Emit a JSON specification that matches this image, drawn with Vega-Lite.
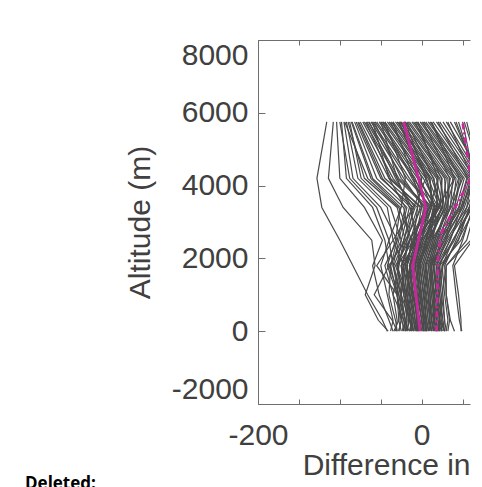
{
"$schema":"https://vega.github.io/schema/vega-lite/v6.json",
"autosize":{"type":"none"},
"padding":{"left":258,"top":40,"right":12,"bottom":83},
"width":212,"height":364,
"background":"white",
"config":{"view":{"stroke":null}},
"title":{"text":"Deleted:","orient":"bottom","anchor":"start","frame":"group","font":"Open Sans","fontWeight":"bold","fontSize":17,"color":"black","dx":-233,"offset":0,"dy":-4},
"datasets":{
"profiles":[
{"id":1,"alt":5750,"diff":-116},{"id":1,"alt":4200,"diff":-128},{"id":1,"alt":3400,"diff":-122},{"id":1,"alt":2500,"diff":-100},{"id":1,"alt":1800,"diff":-84},{"id":1,"alt":1000,"diff":-66},{"id":1,"alt":300,"diff":-48},{"id":1,"alt":0,"diff":-42},
{"id":2,"alt":5750,"diff":-108},{"id":2,"alt":4200,"diff":-114},{"id":2,"alt":3400,"diff":-96},{"id":2,"alt":2500,"diff":-61},{"id":2,"alt":1800,"diff":-57},{"id":2,"alt":1000,"diff":-69},{"id":2,"alt":300,"diff":-53},{"id":2,"alt":0,"diff":-41},
{"id":3,"alt":5750,"diff":-104},{"id":3,"alt":4200,"diff":-100},{"id":3,"alt":3400,"diff":-70},{"id":3,"alt":2500,"diff":-48},{"id":3,"alt":1800,"diff":-60},{"id":3,"alt":1000,"diff":-52},{"id":3,"alt":300,"diff":-40},{"id":3,"alt":0,"diff":-35},
{"id":4,"alt":5750,"diff":-98},{"id":4,"alt":4200,"diff":-92},{"id":4,"alt":3400,"diff":-60},{"id":4,"alt":2500,"diff":-45},{"id":4,"alt":1800,"diff":-40},{"id":4,"alt":1000,"diff":-58},{"id":4,"alt":300,"diff":-36},{"id":4,"alt":0,"diff":-30},
{"id":5,"alt":5750,"diff":-95},{"id":5,"alt":4200,"diff":-84},{"id":5,"alt":3400,"diff":-50},{"id":5,"alt":2500,"diff":-30},{"id":5,"alt":1800,"diff":-38},{"id":5,"alt":1000,"diff":-30},{"id":5,"alt":300,"diff":-28},{"id":5,"alt":0,"diff":-25},
{"id":6,"alt":5750,"diff":-92},{"id":6,"alt":4200,"diff":-78},{"id":6,"alt":3400,"diff":-42},{"id":6,"alt":2500,"diff":-35},{"id":6,"alt":1800,"diff":-22},{"id":6,"alt":1000,"diff":-25},{"id":6,"alt":300,"diff":-20},{"id":6,"alt":0,"diff":-18},
{"id":7,"alt":5750,"diff":-90},{"id":7,"alt":4200,"diff":-70},{"id":7,"alt":3400,"diff":-30},{"id":7,"alt":2500,"diff":-20},{"id":7,"alt":1800,"diff":-28},{"id":7,"alt":1000,"diff":-35},{"id":7,"alt":300,"diff":-22},{"id":7,"alt":0,"diff":-15},
{"id":8,"alt":5750,"diff":-88},{"id":8,"alt":4200,"diff":-74},{"id":8,"alt":3400,"diff":-38},{"id":8,"alt":2500,"diff":-25},{"id":8,"alt":1800,"diff":-30},{"id":8,"alt":1000,"diff":-18},{"id":8,"alt":300,"diff":-12},{"id":8,"alt":0,"diff":-10},
{"id":9,"alt":5750,"diff":-85},{"id":9,"alt":4200,"diff":-60},{"id":9,"alt":3400,"diff":-22},{"id":9,"alt":2500,"diff":-15},{"id":9,"alt":1800,"diff":-25},{"id":9,"alt":1000,"diff":-20},{"id":9,"alt":300,"diff":-18},{"id":9,"alt":0,"diff":-20},
{"id":10,"alt":5750,"diff":-82},{"id":10,"alt":4200,"diff":-55},{"id":10,"alt":3400,"diff":-18},{"id":10,"alt":2500,"diff":-28},{"id":10,"alt":1800,"diff":-35},{"id":10,"alt":1000,"diff":-25},{"id":10,"alt":300,"diff":-15},{"id":10,"alt":0,"diff":-12},
{"id":11,"alt":5750,"diff":-80},{"id":11,"alt":4200,"diff":-50},{"id":11,"alt":3400,"diff":-10},{"id":11,"alt":2500,"diff":-18},{"id":11,"alt":1800,"diff":-20},{"id":11,"alt":1000,"diff":-12},{"id":11,"alt":300,"diff":-8},{"id":11,"alt":0,"diff":-5},
{"id":12,"alt":5750,"diff":-77},{"id":12,"alt":4200,"diff":-45},{"id":12,"alt":3400,"diff":-5},{"id":12,"alt":2500,"diff":-10},{"id":12,"alt":1800,"diff":-30},{"id":12,"alt":1000,"diff":-22},{"id":12,"alt":300,"diff":-10},{"id":12,"alt":0,"diff":-8},
{"id":13,"alt":5750,"diff":-75},{"id":13,"alt":4200,"diff":-40},{"id":13,"alt":3400,"diff":0},{"id":13,"alt":2500,"diff":-8},{"id":13,"alt":1800,"diff":-15},{"id":13,"alt":1000,"diff":-10},{"id":13,"alt":300,"diff":-5},{"id":13,"alt":0,"diff":-3},
{"id":14,"alt":5750,"diff":-72},{"id":14,"alt":4200,"diff":-35},{"id":14,"alt":3400,"diff":-8},{"id":14,"alt":2500,"diff":-22},{"id":14,"alt":1800,"diff":-28},{"id":14,"alt":1000,"diff":-30},{"id":14,"alt":300,"diff":-25},{"id":14,"alt":0,"diff":-28},
{"id":15,"alt":5750,"diff":-70},{"id":15,"alt":4200,"diff":-30},{"id":15,"alt":3400,"diff":5},{"id":15,"alt":2500,"diff":-5},{"id":15,"alt":1800,"diff":-12},{"id":15,"alt":1000,"diff":-8},{"id":15,"alt":300,"diff":-2},{"id":15,"alt":0,"diff":0},
{"id":16,"alt":5750,"diff":-67},{"id":16,"alt":4200,"diff":-28},{"id":16,"alt":3400,"diff":8},{"id":16,"alt":2500,"diff":-12},{"id":16,"alt":1800,"diff":-18},{"id":16,"alt":1000,"diff":-15},{"id":16,"alt":300,"diff":-10},{"id":16,"alt":0,"diff":-6},
{"id":17,"alt":5750,"diff":-65},{"id":17,"alt":4200,"diff":-22},{"id":17,"alt":3400,"diff":2},{"id":17,"alt":2500,"diff":-2},{"id":17,"alt":1800,"diff":-8},{"id":17,"alt":1000,"diff":-4},{"id":17,"alt":300,"diff":0},{"id":17,"alt":0,"diff":2},
{"id":18,"alt":5750,"diff":-62},{"id":18,"alt":4200,"diff":-18},{"id":18,"alt":3400,"diff":12},{"id":18,"alt":2500,"diff":0},{"id":18,"alt":1800,"diff":-10},{"id":18,"alt":1000,"diff":-6},{"id":18,"alt":300,"diff":-4},{"id":18,"alt":0,"diff":-2},
{"id":19,"alt":5750,"diff":-60},{"id":19,"alt":4200,"diff":-15},{"id":19,"alt":3400,"diff":10},{"id":19,"alt":2500,"diff":-8},{"id":19,"alt":1800,"diff":-22},{"id":19,"alt":1000,"diff":-18},{"id":19,"alt":300,"diff":-12},{"id":19,"alt":0,"diff":-15},
{"id":20,"alt":5750,"diff":-57},{"id":20,"alt":4200,"diff":-10},{"id":20,"alt":3400,"diff":15},{"id":20,"alt":2500,"diff":5},{"id":20,"alt":1800,"diff":-5},{"id":20,"alt":1000,"diff":0},{"id":20,"alt":300,"diff":3},{"id":20,"alt":0,"diff":5},
{"id":21,"alt":5750,"diff":-55},{"id":21,"alt":4200,"diff":-8},{"id":21,"alt":3400,"diff":6},{"id":21,"alt":2500,"diff":-15},{"id":21,"alt":1800,"diff":-25},{"id":21,"alt":1000,"diff":-10},{"id":21,"alt":300,"diff":-6},{"id":21,"alt":0,"diff":-8},
{"id":22,"alt":5750,"diff":-52},{"id":22,"alt":4200,"diff":-5},{"id":22,"alt":3400,"diff":18},{"id":22,"alt":2500,"diff":8},{"id":22,"alt":1800,"diff":-2},{"id":22,"alt":1000,"diff":2},{"id":22,"alt":300,"diff":5},{"id":22,"alt":0,"diff":6},
{"id":23,"alt":5750,"diff":-50},{"id":23,"alt":4200,"diff":-2},{"id":23,"alt":3400,"diff":12},{"id":23,"alt":2500,"diff":-4},{"id":23,"alt":1800,"diff":-15},{"id":23,"alt":1000,"diff":-12},{"id":23,"alt":300,"diff":-2},{"id":23,"alt":0,"diff":-4},
{"id":24,"alt":5750,"diff":-47},{"id":24,"alt":4200,"diff":2},{"id":24,"alt":3400,"diff":20},{"id":24,"alt":2500,"diff":2},{"id":24,"alt":1800,"diff":-6},{"id":24,"alt":1000,"diff":-3},{"id":24,"alt":300,"diff":2},{"id":24,"alt":0,"diff":3},
{"id":25,"alt":5750,"diff":-45},{"id":25,"alt":4200,"diff":5},{"id":25,"alt":3400,"diff":16},{"id":25,"alt":2500,"diff":10},{"id":25,"alt":1800,"diff":0},{"id":25,"alt":1000,"diff":5},{"id":25,"alt":300,"diff":8},{"id":25,"alt":0,"diff":10},
{"id":26,"alt":5750,"diff":-42},{"id":26,"alt":4200,"diff":8},{"id":26,"alt":3400,"diff":22},{"id":26,"alt":2500,"diff":-2},{"id":26,"alt":1800,"diff":-12},{"id":26,"alt":1000,"diff":-8},{"id":26,"alt":300,"diff":-4},{"id":26,"alt":0,"diff":-6},
{"id":27,"alt":5750,"diff":-40},{"id":27,"alt":4200,"diff":10},{"id":27,"alt":3400,"diff":14},{"id":27,"alt":2500,"diff":6},{"id":27,"alt":1800,"diff":-4},{"id":27,"alt":1000,"diff":-1},{"id":27,"alt":300,"diff":4},{"id":27,"alt":0,"diff":4},
{"id":28,"alt":5750,"diff":-37},{"id":28,"alt":4200,"diff":12},{"id":28,"alt":3400,"diff":24},{"id":28,"alt":2500,"diff":12},{"id":28,"alt":1800,"diff":2},{"id":28,"alt":1000,"diff":8},{"id":28,"alt":300,"diff":10},{"id":28,"alt":0,"diff":12},
{"id":29,"alt":5750,"diff":-35},{"id":29,"alt":4200,"diff":15},{"id":29,"alt":3400,"diff":20},{"id":29,"alt":2500,"diff":-6},{"id":29,"alt":1800,"diff":-18},{"id":29,"alt":1000,"diff":-14},{"id":29,"alt":300,"diff":-8},{"id":29,"alt":0,"diff":-10},
{"id":30,"alt":5750,"diff":-32},{"id":30,"alt":4200,"diff":18},{"id":30,"alt":3400,"diff":26},{"id":30,"alt":2500,"diff":4},{"id":30,"alt":1800,"diff":-8},{"id":30,"alt":1000,"diff":-2},{"id":30,"alt":300,"diff":2},{"id":30,"alt":0,"diff":0},
{"id":31,"alt":5750,"diff":-30},{"id":31,"alt":4200,"diff":20},{"id":31,"alt":3400,"diff":18},{"id":31,"alt":2500,"diff":14},{"id":31,"alt":1800,"diff":5},{"id":31,"alt":1000,"diff":10},{"id":31,"alt":300,"diff":12},{"id":31,"alt":0,"diff":15},
{"id":32,"alt":5750,"diff":-27},{"id":32,"alt":4200,"diff":22},{"id":32,"alt":3400,"diff":28},{"id":32,"alt":2500,"diff":8},{"id":32,"alt":1800,"diff":-3},{"id":32,"alt":1000,"diff":3},{"id":32,"alt":300,"diff":6},{"id":32,"alt":0,"diff":8},
{"id":33,"alt":5750,"diff":-25},{"id":33,"alt":4200,"diff":25},{"id":33,"alt":3400,"diff":22},{"id":33,"alt":2500,"diff":-10},{"id":33,"alt":1800,"diff":-20},{"id":33,"alt":1000,"diff":-16},{"id":33,"alt":300,"diff":-12},{"id":33,"alt":0,"diff":-14},
{"id":34,"alt":5750,"diff":-22},{"id":34,"alt":4200,"diff":28},{"id":34,"alt":3400,"diff":30},{"id":34,"alt":2500,"diff":16},{"id":34,"alt":1800,"diff":8},{"id":34,"alt":1000,"diff":12},{"id":34,"alt":300,"diff":15},{"id":34,"alt":0,"diff":18},
{"id":35,"alt":5750,"diff":-20},{"id":35,"alt":4200,"diff":30},{"id":35,"alt":3400,"diff":25},{"id":35,"alt":2500,"diff":2},{"id":35,"alt":1800,"diff":-10},{"id":35,"alt":1000,"diff":-5},{"id":35,"alt":300,"diff":0},{"id":35,"alt":0,"diff":-2},
{"id":36,"alt":5750,"diff":-17},{"id":36,"alt":4200,"diff":32},{"id":36,"alt":3400,"diff":32},{"id":36,"alt":2500,"diff":18},{"id":36,"alt":1800,"diff":10},{"id":36,"alt":1000,"diff":14},{"id":36,"alt":300,"diff":18},{"id":36,"alt":0,"diff":20},
{"id":37,"alt":5750,"diff":-15},{"id":37,"alt":4200,"diff":35},{"id":37,"alt":3400,"diff":28},{"id":37,"alt":2500,"diff":10},{"id":37,"alt":1800,"diff":0},{"id":37,"alt":1000,"diff":4},{"id":37,"alt":300,"diff":8},{"id":37,"alt":0,"diff":6},
{"id":38,"alt":5750,"diff":-12},{"id":38,"alt":4200,"diff":38},{"id":38,"alt":3400,"diff":35},{"id":38,"alt":2500,"diff":20},{"id":38,"alt":1800,"diff":12},{"id":38,"alt":1000,"diff":16},{"id":38,"alt":300,"diff":20},{"id":38,"alt":0,"diff":24},
{"id":39,"alt":5750,"diff":-10},{"id":39,"alt":4200,"diff":40},{"id":39,"alt":3400,"diff":30},{"id":39,"alt":2500,"diff":6},{"id":39,"alt":1800,"diff":-6},{"id":39,"alt":1000,"diff":-2},{"id":39,"alt":300,"diff":2},{"id":39,"alt":0,"diff":2},
{"id":40,"alt":5750,"diff":-7},{"id":40,"alt":4200,"diff":42},{"id":40,"alt":3400,"diff":38},{"id":40,"alt":2500,"diff":24},{"id":40,"alt":1800,"diff":15},{"id":40,"alt":1000,"diff":18},{"id":40,"alt":300,"diff":22},{"id":40,"alt":0,"diff":28},
{"id":41,"alt":5750,"diff":-5},{"id":41,"alt":4200,"diff":45},{"id":41,"alt":3400,"diff":34},{"id":41,"alt":2500,"diff":14},{"id":41,"alt":1800,"diff":4},{"id":41,"alt":1000,"diff":8},{"id":41,"alt":300,"diff":12},{"id":41,"alt":0,"diff":10},
{"id":42,"alt":5750,"diff":-2},{"id":42,"alt":4200,"diff":48},{"id":42,"alt":3400,"diff":40},{"id":42,"alt":2500,"diff":28},{"id":42,"alt":1800,"diff":12},{"id":42,"alt":1000,"diff":15},{"id":42,"alt":300,"diff":18},{"id":42,"alt":0,"diff":20},
{"id":43,"alt":5750,"diff":0},{"id":43,"alt":4200,"diff":50},{"id":43,"alt":3400,"diff":36},{"id":43,"alt":2500,"diff":12},{"id":43,"alt":1800,"diff":2},{"id":43,"alt":1000,"diff":6},{"id":43,"alt":300,"diff":10},{"id":43,"alt":0,"diff":8},
{"id":44,"alt":5750,"diff":3},{"id":44,"alt":4200,"diff":52},{"id":44,"alt":3400,"diff":42},{"id":44,"alt":2500,"diff":30},{"id":44,"alt":1800,"diff":14},{"id":44,"alt":1000,"diff":18},{"id":44,"alt":300,"diff":22},{"id":44,"alt":0,"diff":25},
{"id":45,"alt":5750,"diff":5},{"id":45,"alt":4200,"diff":55},{"id":45,"alt":3400,"diff":45},{"id":45,"alt":2500,"diff":20},{"id":45,"alt":1800,"diff":8},{"id":45,"alt":1000,"diff":12},{"id":45,"alt":300,"diff":16},{"id":45,"alt":0,"diff":14},
{"id":46,"alt":5750,"diff":8},{"id":46,"alt":4200,"diff":58},{"id":46,"alt":3400,"diff":48},{"id":46,"alt":2500,"diff":35},{"id":46,"alt":1800,"diff":18},{"id":46,"alt":1000,"diff":20},{"id":46,"alt":300,"diff":24},{"id":46,"alt":0,"diff":28},
{"id":47,"alt":5750,"diff":10},{"id":47,"alt":4200,"diff":60},{"id":47,"alt":3400,"diff":50},{"id":47,"alt":2500,"diff":26},{"id":47,"alt":1800,"diff":14},{"id":47,"alt":1000,"diff":18},{"id":47,"alt":300,"diff":22},{"id":47,"alt":0,"diff":20},
{"id":48,"alt":5750,"diff":14},{"id":48,"alt":4200,"diff":62},{"id":48,"alt":3400,"diff":55},{"id":48,"alt":2500,"diff":40},{"id":48,"alt":1800,"diff":20},{"id":48,"alt":1000,"diff":24},{"id":48,"alt":300,"diff":28},{"id":48,"alt":0,"diff":30},
{"id":49,"alt":5750,"diff":18},{"id":49,"alt":4200,"diff":65},{"id":49,"alt":3400,"diff":48},{"id":49,"alt":2500,"diff":22},{"id":49,"alt":1800,"diff":10},{"id":49,"alt":1000,"diff":14},{"id":49,"alt":300,"diff":18},{"id":49,"alt":0,"diff":16},
{"id":50,"alt":5750,"diff":22},{"id":50,"alt":4200,"diff":68},{"id":50,"alt":3400,"diff":62},{"id":50,"alt":2500,"diff":50},{"id":50,"alt":1800,"diff":38},{"id":50,"alt":1000,"diff":42},{"id":50,"alt":300,"diff":46},{"id":50,"alt":0,"diff":49},
{"id":51,"alt":5750,"diff":26},{"id":51,"alt":4200,"diff":70},{"id":51,"alt":3400,"diff":58},{"id":51,"alt":2500,"diff":45},{"id":51,"alt":1800,"diff":25},{"id":51,"alt":1000,"diff":20},{"id":51,"alt":300,"diff":22},{"id":51,"alt":0,"diff":22},
{"id":52,"alt":5750,"diff":30},{"id":52,"alt":4200,"diff":72},{"id":52,"alt":3400,"diff":66},{"id":52,"alt":2500,"diff":55},{"id":52,"alt":1800,"diff":30},{"id":52,"alt":1000,"diff":25},{"id":52,"alt":300,"diff":22},{"id":52,"alt":0,"diff":20},
{"id":53,"alt":5750,"diff":35},{"id":53,"alt":4200,"diff":75},{"id":53,"alt":3400,"diff":60},{"id":53,"alt":2500,"diff":38},{"id":53,"alt":1800,"diff":25},{"id":53,"alt":1000,"diff":28},{"id":53,"alt":300,"diff":32},{"id":53,"alt":0,"diff":30},
{"id":54,"alt":5750,"diff":40},{"id":54,"alt":4200,"diff":70},{"id":54,"alt":3400,"diff":55},{"id":54,"alt":2500,"diff":30},{"id":54,"alt":1800,"diff":18},{"id":54,"alt":1000,"diff":22},{"id":54,"alt":300,"diff":25},{"id":54,"alt":0,"diff":24},
{"id":55,"alt":5750,"diff":45},{"id":55,"alt":4200,"diff":66},{"id":55,"alt":3400,"diff":64},{"id":55,"alt":2500,"diff":48},{"id":55,"alt":1800,"diff":22},{"id":55,"alt":1000,"diff":20},{"id":55,"alt":300,"diff":18},{"id":55,"alt":0,"diff":18},
{"id":56,"alt":5750,"diff":50},{"id":56,"alt":4200,"diff":64},{"id":56,"alt":3400,"diff":52},{"id":56,"alt":2500,"diff":34},{"id":56,"alt":1800,"diff":22},{"id":56,"alt":1000,"diff":26},{"id":56,"alt":300,"diff":28},{"id":56,"alt":0,"diff":26},
{"id":57,"alt":5750,"diff":55},{"id":57,"alt":4200,"diff":72},{"id":57,"alt":3400,"diff":75},{"id":57,"alt":2500,"diff":62},{"id":57,"alt":1800,"diff":40},{"id":57,"alt":1000,"diff":45},{"id":57,"alt":300,"diff":48},{"id":57,"alt":0,"diff":48},
{"id":58,"alt":5750,"diff":60},{"id":58,"alt":4200,"diff":70},{"id":58,"alt":3400,"diff":60},{"id":58,"alt":2500,"diff":42},{"id":58,"alt":1800,"diff":28},{"id":58,"alt":1000,"diff":30},{"id":58,"alt":300,"diff":34},{"id":58,"alt":0,"diff":32},
{"id":59,"alt":5750,"diff":65},{"id":59,"alt":4200,"diff":75},{"id":59,"alt":3400,"diff":72},{"id":59,"alt":2500,"diff":60},{"id":59,"alt":1800,"diff":30},{"id":59,"alt":1000,"diff":30},{"id":59,"alt":300,"diff":35},{"id":59,"alt":0,"diff":40},
{"id":60,"alt":5750,"diff":-60},{"id":60,"alt":4200,"diff":-40},{"id":60,"alt":3400,"diff":-20},{"id":60,"alt":2500,"diff":-30},{"id":60,"alt":1800,"diff":-45},{"id":60,"alt":1000,"diff":-35},{"id":60,"alt":300,"diff":-30},{"id":60,"alt":0,"diff":-32},
{"id":61,"alt":5750,"diff":-45},{"id":61,"alt":4200,"diff":-20},{"id":61,"alt":3400,"diff":-25},{"id":61,"alt":2500,"diff":-40},{"id":61,"alt":1800,"diff":-50},{"id":61,"alt":1000,"diff":-42},{"id":61,"alt":300,"diff":-35},{"id":61,"alt":0,"diff":-38},
{"id":62,"alt":5750,"diff":-20},{"id":62,"alt":4200,"diff":5},{"id":62,"alt":3400,"diff":-10},{"id":62,"alt":2500,"diff":-35},{"id":62,"alt":1800,"diff":-55},{"id":62,"alt":1000,"diff":-30},{"id":62,"alt":300,"diff":-25},{"id":62,"alt":0,"diff":-28},
{"id":63,"alt":5750,"diff":-35},{"id":63,"alt":4200,"diff":-10},{"id":63,"alt":3400,"diff":0},{"id":63,"alt":2500,"diff":-20},{"id":63,"alt":1800,"diff":-40},{"id":63,"alt":1000,"diff":-28},{"id":63,"alt":300,"diff":-20},{"id":63,"alt":0,"diff":-22},
{"id":64,"alt":5750,"diff":-5},{"id":64,"alt":4200,"diff":20},{"id":64,"alt":3400,"diff":10},{"id":64,"alt":2500,"diff":-15},{"id":64,"alt":1800,"diff":-32},{"id":64,"alt":1000,"diff":-20},{"id":64,"alt":300,"diff":-15},{"id":64,"alt":0,"diff":-18},
{"id":65,"alt":5750,"diff":-50},{"id":65,"alt":4200,"diff":-30},{"id":65,"alt":3400,"diff":-15},{"id":65,"alt":2500,"diff":-25},{"id":65,"alt":1800,"diff":-38},{"id":65,"alt":1000,"diff":-40},{"id":65,"alt":300,"diff":-32},{"id":65,"alt":0,"diff":-30},
{"id":66,"alt":5750,"diff":-28},{"id":66,"alt":4200,"diff":0},{"id":66,"alt":3400,"diff":-5},{"id":66,"alt":2500,"diff":-18},{"id":66,"alt":1800,"diff":-30},{"id":66,"alt":1000,"diff":-25},{"id":66,"alt":300,"diff":-28},{"id":66,"alt":0,"diff":-34},
{"id":67,"alt":5750,"diff":12},{"id":67,"alt":4200,"diff":40},{"id":67,"alt":3400,"diff":20},{"id":67,"alt":2500,"diff":-5},{"id":67,"alt":1800,"diff":-25},{"id":67,"alt":1000,"diff":-22},{"id":67,"alt":300,"diff":-18},{"id":67,"alt":0,"diff":-20},
{"id":68,"alt":5750,"diff":-100},{"id":68,"alt":4200,"diff":-88},{"id":68,"alt":3400,"diff":-55},{"id":68,"alt":2500,"diff":-40},{"id":68,"alt":1800,"diff":-35},{"id":68,"alt":1000,"diff":-28},{"id":68,"alt":300,"diff":-22},{"id":68,"alt":0,"diff":-20},
{"id":69,"alt":5750,"diff":-94},{"id":69,"alt":4200,"diff":-66},{"id":69,"alt":3400,"diff":-28},{"id":69,"alt":2500,"diff":-12},{"id":69,"alt":1800,"diff":-18},{"id":69,"alt":1000,"diff":-14},{"id":69,"alt":300,"diff":-10},{"id":69,"alt":0,"diff":-12},
{"id":70,"alt":5750,"diff":-86},{"id":70,"alt":4200,"diff":-62},{"id":70,"alt":3400,"diff":-26},{"id":70,"alt":2500,"diff":-32},{"id":70,"alt":1800,"diff":-42},{"id":70,"alt":1000,"diff":-30},{"id":70,"alt":300,"diff":-24},{"id":70,"alt":0,"diff":-22},
{"id":71,"alt":5750,"diff":-78},{"id":71,"alt":4200,"diff":-48},{"id":71,"alt":3400,"diff":-14},{"id":71,"alt":2500,"diff":-6},{"id":71,"alt":1800,"diff":-14},{"id":71,"alt":1000,"diff":-18},{"id":71,"alt":300,"diff":-14},{"id":71,"alt":0,"diff":-10},
{"id":72,"alt":5750,"diff":-68},{"id":72,"alt":4200,"diff":-38},{"id":72,"alt":3400,"diff":-2},{"id":72,"alt":2500,"diff":-14},{"id":72,"alt":1800,"diff":-24},{"id":72,"alt":1000,"diff":-20},{"id":72,"alt":300,"diff":-16},{"id":72,"alt":0,"diff":-18},
{"id":73,"alt":5750,"diff":-58},{"id":73,"alt":4200,"diff":-25},{"id":73,"alt":3400,"diff":4},{"id":73,"alt":2500,"diff":-10},{"id":73,"alt":1800,"diff":-18},{"id":73,"alt":1000,"diff":-10},{"id":73,"alt":300,"diff":-4},{"id":73,"alt":0,"diff":-6},
{"id":74,"alt":5750,"diff":-48},{"id":74,"alt":4200,"diff":-12},{"id":74,"alt":3400,"diff":8},{"id":74,"alt":2500,"diff":0},{"id":74,"alt":1800,"diff":-8},{"id":74,"alt":1000,"diff":-12},{"id":74,"alt":300,"diff":-8},{"id":74,"alt":0,"diff":-6},
{"id":75,"alt":5750,"diff":-38},{"id":75,"alt":4200,"diff":-4},{"id":75,"alt":3400,"diff":18},{"id":75,"alt":2500,"diff":-4},{"id":75,"alt":1800,"diff":-14},{"id":75,"alt":1000,"diff":-6},{"id":75,"alt":300,"diff":0},{"id":75,"alt":0,"diff":2},
{"id":76,"alt":5750,"diff":-28},{"id":76,"alt":4200,"diff":6},{"id":76,"alt":3400,"diff":16},{"id":76,"alt":2500,"diff":6},{"id":76,"alt":1800,"diff":-2},{"id":76,"alt":1000,"diff":2},{"id":76,"alt":300,"diff":6},{"id":76,"alt":0,"diff":4},
{"id":77,"alt":5750,"diff":-18},{"id":77,"alt":4200,"diff":14},{"id":77,"alt":3400,"diff":24},{"id":77,"alt":2500,"diff":10},{"id":77,"alt":1800,"diff":-4},{"id":77,"alt":1000,"diff":0},{"id":77,"alt":300,"diff":4},{"id":77,"alt":0,"diff":6},
{"id":78,"alt":5750,"diff":-8},{"id":78,"alt":4200,"diff":24},{"id":78,"alt":3400,"diff":26},{"id":78,"alt":2500,"diff":0},{"id":78,"alt":1800,"diff":-14},{"id":78,"alt":1000,"diff":-10},{"id":78,"alt":300,"diff":-6},{"id":78,"alt":0,"diff":-4},
{"id":79,"alt":5750,"diff":2},{"id":79,"alt":4200,"diff":34},{"id":79,"alt":3400,"diff":32},{"id":79,"alt":2500,"diff":16},{"id":79,"alt":1800,"diff":4},{"id":79,"alt":1000,"diff":8},{"id":79,"alt":300,"diff":10},{"id":79,"alt":0,"diff":12},
{"id":80,"alt":5750,"diff":12},{"id":80,"alt":4200,"diff":46},{"id":80,"alt":3400,"diff":40},{"id":80,"alt":2500,"diff":18},{"id":80,"alt":1800,"diff":6},{"id":80,"alt":1000,"diff":10},{"id":80,"alt":300,"diff":14},{"id":80,"alt":0,"diff":12},
{"id":81,"alt":5750,"diff":20},{"id":81,"alt":4200,"diff":56},{"id":81,"alt":3400,"diff":46},{"id":81,"alt":2500,"diff":24},{"id":81,"alt":1800,"diff":12},{"id":81,"alt":1000,"diff":10},{"id":81,"alt":300,"diff":12},{"id":81,"alt":0,"diff":14},
{"id":82,"alt":5750,"diff":32},{"id":82,"alt":4200,"diff":62},{"id":82,"alt":3400,"diff":50},{"id":82,"alt":2500,"diff":28},{"id":82,"alt":1800,"diff":10},{"id":82,"alt":1000,"diff":14},{"id":82,"alt":300,"diff":16},{"id":82,"alt":0,"diff":18},
{"id":83,"alt":5750,"diff":42},{"id":83,"alt":4200,"diff":68},{"id":83,"alt":3400,"diff":58},{"id":83,"alt":2500,"diff":32},{"id":83,"alt":1800,"diff":16},{"id":83,"alt":1000,"diff":18},{"id":83,"alt":300,"diff":20},{"id":83,"alt":0,"diff":22},
{"id":84,"alt":5750,"diff":52},{"id":84,"alt":4200,"diff":74},{"id":84,"alt":3400,"diff":62},{"id":84,"alt":2500,"diff":38},{"id":84,"alt":1800,"diff":20},{"id":84,"alt":1000,"diff":16},{"id":84,"alt":300,"diff":14},{"id":84,"alt":0,"diff":16},
{"id":85,"alt":5750,"diff":62},{"id":85,"alt":4200,"diff":78},{"id":85,"alt":3400,"diff":66},{"id":85,"alt":2500,"diff":44},{"id":85,"alt":1800,"diff":26},{"id":85,"alt":1000,"diff":22},{"id":85,"alt":300,"diff":26},{"id":85,"alt":0,"diff":28},
{"id":86,"alt":5750,"diff":-64},{"id":86,"alt":4200,"diff":-32},{"id":86,"alt":3400,"diff":-12},{"id":86,"alt":2500,"diff":-22},{"id":86,"alt":1800,"diff":-34},{"id":86,"alt":1000,"diff":-26},{"id":86,"alt":300,"diff":-20},{"id":86,"alt":0,"diff":-24},
{"id":87,"alt":5750,"diff":-26},{"id":87,"alt":4200,"diff":10},{"id":87,"alt":3400,"diff":12},{"id":87,"alt":2500,"diff":-8},{"id":87,"alt":1800,"diff":-22},{"id":87,"alt":1000,"diff":-18},{"id":87,"alt":300,"diff":-14},{"id":87,"alt":0,"diff":-12}
],
"stats":[
{"series":"mean","alt":5750,"diff":-22},{"series":"mean","alt":4200,"diff":-4},{"series":"mean","alt":3400,"diff":5},{"series":"mean","alt":1800,"diff":-11},{"series":"mean","alt":0,"diff":-2},
{"series":"other","alt":5750,"diff":50},{"series":"other","alt":4200,"diff":60},{"series":"other","alt":2700,"diff":24},{"series":"other","alt":2050,"diff":20},{"series":"other","alt":0,"diff":18}
]
},
"layer":[
{
"data":{"name":"profiles"},
"mark":{"type":"line","clip":true,"color":"#4a4a4a","strokeWidth":1.2},
"encoding":{
"x":{"field":"diff","type":"quantitative","scale":{"domain":[-200,59],"nice":false,"zero":false},
 "axis":{"orient":"bottom","values":[-200,-150,-100,-50,0,50],"labelExpr":"datum.value % 200 === 0 ? '' + datum.value : ''",
  "tickSize":-5,
  "labelFlush":false,"labelOverlap":false,"grid":false,"domainColor":"#6e6e6e","tickColor":"#6e6e6e","domainWidth":1,"tickWidth":1,
  "labelFont":"Liberation Sans","labelFontSize":30,"labelColor":"#404040","labelPadding":21,
  "title":"Difference in","titleAnchor":"end","titleFont":"Liberation Sans","titleFontSize":30,"titleFontWeight":"normal","titleColor":"#404040","titlePadding":0}},
"y":{"field":"alt","type":"quantitative","scale":{"domain":[-2000,8000],"nice":false,"zero":false},
 "axis":{"orient":"left","values":[-2000,-1500,-1000,-500,0,500,1000,1500,2000,2500,3000,3500,4000,4500,5000,5500,6000,6500,7000,7500,8000],
  "labelExpr":"datum.value % 2000 === 0 ? '' + datum.value : ''",
  "tickSize":-7,
  "labelFlush":true,"labelOverlap":false,"grid":false,"domainColor":"#6e6e6e","tickColor":"#6e6e6e","domainWidth":1,"tickWidth":1,
  "labelFont":"Liberation Sans","labelFontSize":30,"labelColor":"#404040","labelPadding":17,
  "title":"Altitude (m)","titleFont":"Liberation Sans","titleFontSize":30,"titleFontWeight":"normal","titleColor":"#404040","titlePadding":16}},
"detail":{"field":"id","type":"nominal"},
"order":{"field":"alt","type":"quantitative"}
}
},
{
"data":{"name":"stats"},
"mark":{"type":"line","clip":true,"color":"#c8289b","strokeWidth":2.8},
"encoding":{
"x":{"field":"diff","type":"quantitative",
 "axis":{"orient":"top","values":[-200,-150,-100,-50,0,50],"labels":false,"title":null,
  "tickSize":-5,
  "grid":false,"domainColor":"#6e6e6e","tickColor":"#6e6e6e","domainWidth":1,"tickWidth":1}},
"y":{"field":"alt","type":"quantitative","title":"Altitude (m)"},
"strokeDash":{"field":"series","type":"nominal","scale":{"domain":["mean","other"],"range":[[1,0],[6,3,2,3]]},"legend":null},
"order":{"field":"alt","type":"quantitative"}
}
}
],
"resolve":{"axis":{"x":"independent"}}
}
